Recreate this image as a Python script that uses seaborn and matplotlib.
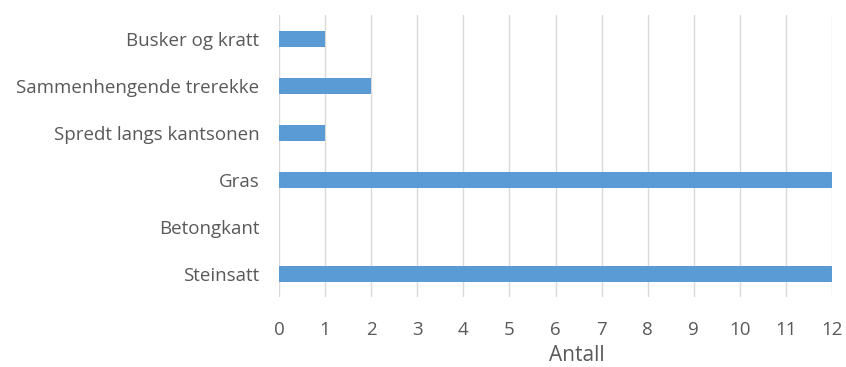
import matplotlib
matplotlib.use("Agg")
import matplotlib.pyplot as plt
import seaborn as sns
import pandas as pd

categories = ["Busker og kratt", "Sammenhengende trerekke", "Spredt langs kantsonen",
              "Gras", "Betongkant", "Steinsatt"]
counts = [1, 2, 1, 12, 0, 12]
x_ticks = list(range(0, 13))

sns.set_theme(style="white")
plt.rcParams["font.family"] = ["Open Sans", "DejaVu Sans"]

df = pd.DataFrame({"Kategori": categories, "Antall": counts})

fig = plt.figure(figsize=(8.46, 3.67), dpi=100)
ax = fig.add_axes([0.3298, 0.1894, 0.6537, 0.7684])

sns.barplot(data=df, x="Antall", y="Kategori", order=categories, color="#5B9BD5",
            width=0.34, saturation=1, linewidth=0, ax=ax)

ax.set_xlim(0, 12)
ax.set_xticks(x_ticks)
ax.set_xticklabels([str(t) for t in x_ticks])
ax.grid(axis="x", color="#D9D9D9", linewidth=1)
ax.set_axisbelow(True)
for s in ax.spines.values():
    s.set_visible(False)
ax.tick_params(axis="both", length=0, colors="#595959", labelsize=13.5)
ax.tick_params(axis="x", pad=17)
ax.tick_params(axis="y", pad=14)
ax.set_ylabel("")
ax.set_xlabel("Antall", color="#595959", fontsize=15)
ax.xaxis.set_label_coords(0.539, -0.17)

fig.savefig("out.png", dpi=100)
